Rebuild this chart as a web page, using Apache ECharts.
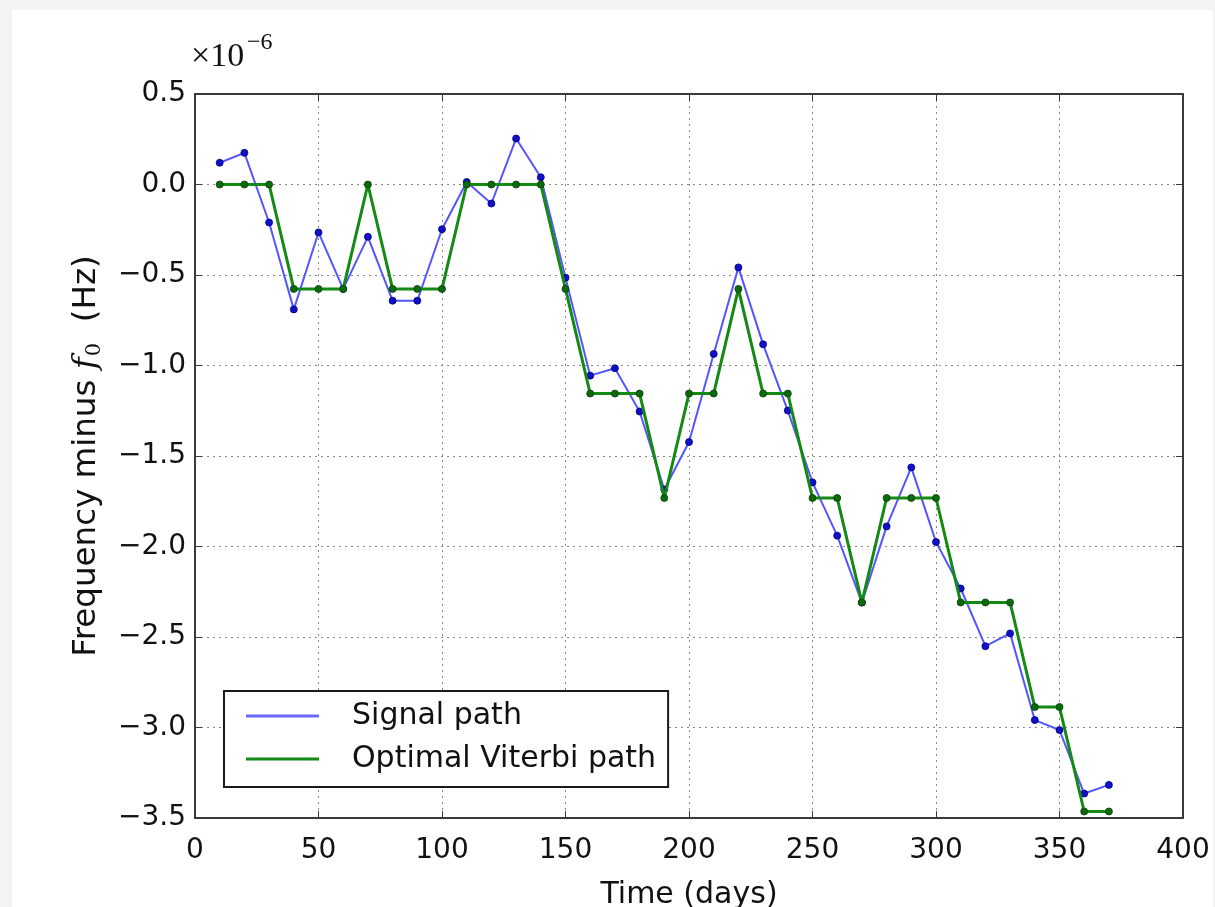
<!DOCTYPE html>
<html>
<head>
<meta charset="utf-8">
<title>Signal path vs optimal Viterbi path</title>
<script src="https://cdn.jsdelivr.net/npm/echarts@6/dist/echarts.min.js"></script>
<style>
  html, body { margin: 0; padding: 0; background: #f3f3f3; }
  #panel { position: absolute; left: 12px; top: 10px; width: 1201px; height: 897px; background: #ffffff; }
  #chart { position: absolute; left: 0; top: 0; width: 1215px; height: 907px; }
</style>
</head>
<body>
<div id="panel"></div>
<div id="chart"></div>
<script>
// Observation times (days)
const timeDays = [10, 20, 30, 40, 50, 60, 70, 80, 90, 100, 110, 120, 130, 140, 150, 160, 170, 180, 190,
                  200, 210, 220, 230, 240, 250, 260, 270, 280, 290, 300, 310, 320, 330, 340, 350, 360, 370];

// Frequency offsets from f0, in units of 1e-6 Hz
const signalPath = [0.12, 0.175, -0.21, -0.69, -0.265, -0.577, -0.289, -0.642, -0.642, -0.247,
                    0.014, -0.105, 0.254, 0.04, -0.515, -1.056, -1.015, -1.254, -1.685, -1.423,
                    -0.936, -0.458, -0.883, -1.249, -1.646, -1.94, -2.31, -1.889, -1.563, -1.975,
                    -2.232, -2.551, -2.48, -2.959, -3.014, -3.365, -3.317];

const viterbiPath = [0, 0, 0, -0.577, -0.577, -0.577, 0, -0.577, -0.577, -0.577,
                     0, 0, 0, 0, -0.577, -1.155, -1.155, -1.155, -1.732, -1.155,
                     -1.155, -0.577, -1.155, -1.155, -1.732, -1.732, -2.309, -1.732, -1.732, -1.732,
                     -2.309, -2.309, -2.309, -2.887, -2.887, -3.464, -3.464];

const seriesNames = ['Signal path', 'Optimal Viterbi path'];
const xTicks = { min: 0, max: 400, step: 50 };
const yTicks = { min: -3.5, max: 0.5, step: 0.5 };

const pair = (xs, ys) => xs.map((x, i) => [x, ys[i]]);
const fmtY = v => {
  const r = Math.round(v * 10) / 10;
  return (r < 0 ? '\u2212' : '') + Math.abs(r).toFixed(1);
};

const FONT = 'DejaVu Sans';
const frame = { show: true, onZero: false, lineStyle: { color: '#3a3a3a', width: 2 } };
const grid = { left: 195, top: 94, width: 988, height: 724, outerBoundsMode: 'none', containLabel: false };
const gridDots = { show: true, lineStyle: { color: '#888888', width: 1, type: [2, 4] } };
const innerTick = { show: true, inside: true, length: 7, lineStyle: { color: '#3a3a3a', width: 1 } };

const chart = echarts.init(document.getElementById('chart'), null, { renderer: 'canvas' });

chart.setOption({
  animation: false,
  backgroundColor: 'transparent',
  grid: grid,
  xAxis: [{
    type: 'value', min: xTicks.min, max: xTicks.max, interval: xTicks.step,
    axisLine: frame, axisTick: innerTick, splitLine: gridDots,
    axisLabel: { fontFamily: FONT, fontSize: 28, color: '#111', margin: 19 },
    name: 'Time (days)', nameLocation: 'middle', nameGap: 62,
    nameTextStyle: { fontFamily: FONT, fontSize: 30, color: '#111' }
  }, {
    type: 'value', position: 'top', min: xTicks.min, max: xTicks.max, interval: xTicks.step,
    axisLine: frame, axisTick: innerTick, splitLine: { show: false }, axisLabel: { show: false }
  }],
  yAxis: [{
    type: 'value', min: yTicks.min, max: yTicks.max, interval: yTicks.step,
    axisLine: frame, axisTick: innerTick, splitLine: gridDots,
    axisLabel: { fontFamily: FONT, fontSize: 28, color: '#111', margin: 9, formatter: fmtY },
    name: 'Frequency minus {f|f}{s|0}  (Hz)', nameLocation: 'middle', nameGap: 90, nameRotate: 90,
    nameTextStyle: {
      fontFamily: FONT, fontSize: 32.5, color: '#111',
      rich: {
        f: { fontFamily: 'DejaVu Serif', fontStyle: 'italic', fontSize: 32.5, color: '#111' },
        s: { fontFamily: 'DejaVu Serif', fontSize: 21, color: '#111', padding: [15, 0, 0, 1] }
      }
    }
  }, {
    type: 'value', position: 'right', min: yTicks.min, max: yTicks.max, interval: yTicks.step,
    axisLine: frame, axisTick: innerTick, splitLine: { show: false }, axisLabel: { show: false }
  }],
  legend: {
    orient: 'vertical', left: 224, top: 691,
    padding: [8, 12, 11, 22],
    itemGap: 9, itemWidth: 73, itemHeight: 3,
    borderColor: '#1a1a1a', borderWidth: 2, borderRadius: 0,
    backgroundColor: '#ffffff',
    textStyle: { fontFamily: FONT, fontSize: 30, color: '#111', lineHeight: 34, padding: [0, 0, 0, 28] },
    data: [
      { name: seriesNames[0], icon: 'rect', itemStyle: { color: '#6a6aff', borderWidth: 0 } },
      { name: seriesNames[1], icon: 'rect', itemStyle: { color: '#138a13', borderWidth: 0 } }
    ]
  },
  graphic: [
    { type: 'text', left: 191, top: 40, style: { text: '\u00d710', font: '34px "Liberation Serif"', fill: '#111' } },
    { type: 'text', left: 247, top: 31, style: { text: '\u22126', font: '24px "Liberation Serif"', fill: '#111' } }
  ],
  series: [{
    name: seriesNames[0], type: 'line', data: pair(timeDays, signalPath),
    symbol: 'circle', symbolSize: 7,
    lineStyle: { color: '#5555ff', width: 2 },
    itemStyle: { color: '#1010c8', borderColor: '#00007a', borderWidth: 0.8 },
    z: 3
  }, {
    name: seriesNames[1], type: 'line', data: pair(timeDays, viterbiPath),
    symbol: 'circle', symbolSize: 7,
    lineStyle: { color: '#138a13', width: 3 },
    itemStyle: { color: '#0c6a0c', borderColor: '#073d07', borderWidth: 0.8 },
    z: 4
  }]
});
</script>
</body>
</html>
